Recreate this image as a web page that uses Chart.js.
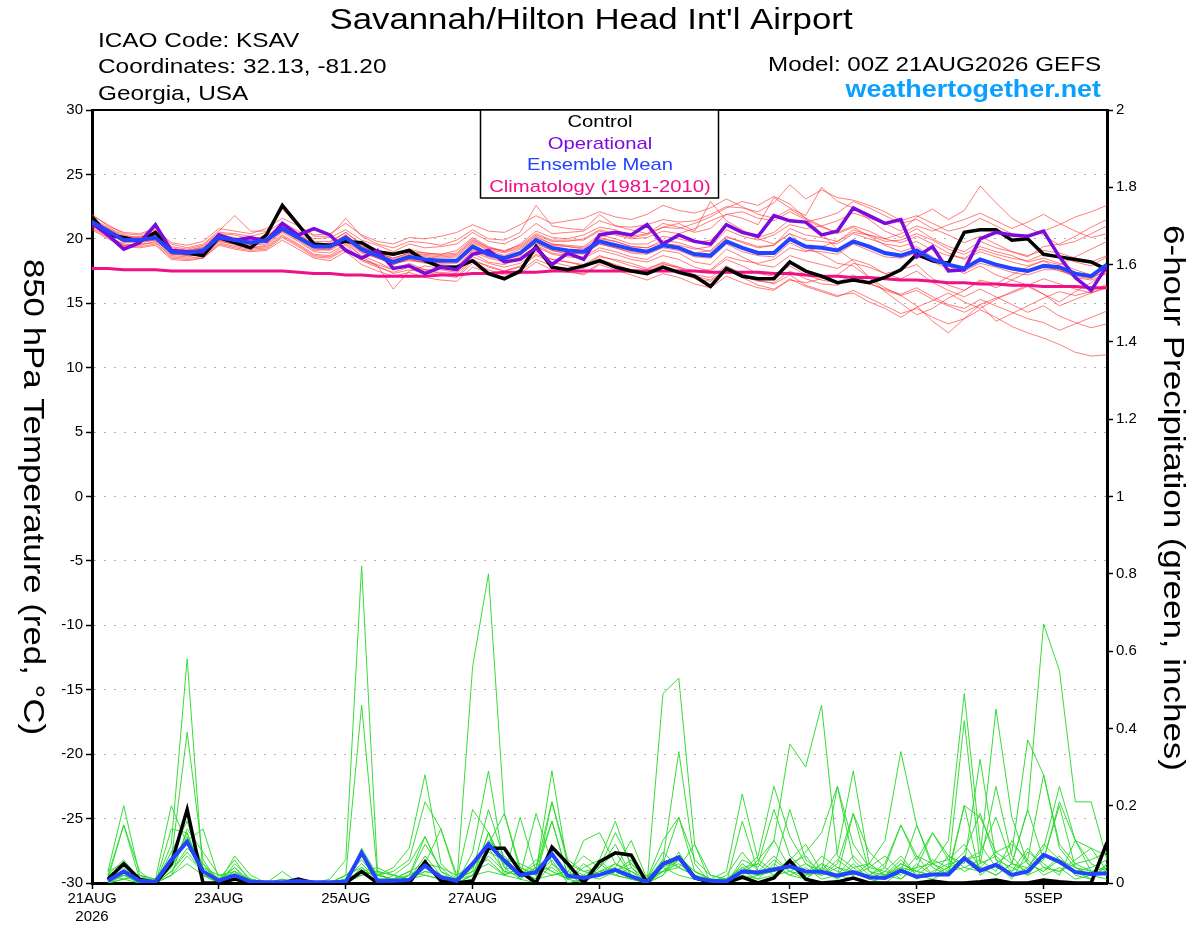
<!DOCTYPE html>
<html>
<head>
<meta charset="utf-8">
<title>KSAV GEFS meteogram</title>
<script src="https://cdn.jsdelivr.net/npm/chart.js@4.4.1/dist/chart.umd.min.js"></script>
<style>
  html, body { margin: 0; padding: 0; background: #fff; }
  #chart { display: block; }
</style>
</head>
<body>
<canvas id="chart" width="1200" height="927"></canvas>
<script>
// x axis is in 6-hour steps from 00Z 21AUG2026 (0) to 384 h (64)
const tickSteps = [0, 8, 16, 24, 32, 44, 52, 60];
const tickLabels = [['21AUG', '2026'], '23AUG', '25AUG', '27AUG', '29AUG', '1SEP', '3SEP', '5SEP'];

// 850 hPa temperature (deg C)
const controlTemp = [
  21.7, 20.3, 20.1, 19.8, 20.5, 19.1, 18.9, 18.7,
  20.1, 19.7, 19.3, 20.3, 22.6, 21.1, 19.6, 19.5,
  19.8, 19.7, 19.0, 18.8, 19.1, 18.3, 17.8, 17.8,
  18.3, 17.3, 16.9, 17.5, 19.4, 17.8, 17.6, 17.9,
  18.3, 17.8, 17.5, 17.3, 17.8, 17.4, 17.1, 16.3,
  17.7, 17.1, 16.9, 16.9, 18.2, 17.5, 17.1, 16.6,
  16.8, 16.6, 17.0, 17.6, 18.8, 18.3, 18.1, 20.5,
  20.7, 20.7, 19.9, 20.0, 18.8, 18.6, 18.4, 18.2,
  17.6
];
const operationalTemp = [
  21.2, 20.3, 19.2, 19.7, 21.1, 19.1, 19.0, 19.0,
  20.3, 19.9, 20.1, 19.8, 21.2, 20.3, 20.8, 20.3,
  19.1, 18.5, 19.1, 17.7, 17.9, 17.3, 17.8, 17.6,
  18.8, 19.1, 18.2, 18.4, 19.3, 18.0, 18.9, 18.4,
  20.3, 20.5, 20.3, 21.1, 19.6, 20.3, 19.8, 19.6,
  21.1, 20.5, 20.2, 21.8, 21.4, 21.3, 20.3, 20.6,
  22.4, 21.8, 21.2, 21.5, 18.6, 19.4, 17.5, 17.6,
  20.0, 20.5, 20.3, 20.2, 20.6, 18.6, 17.0, 16.0,
  17.9
];
const meanTemp = [
  21.3, 20.6, 19.9, 19.9, 20.1, 19.0, 18.9, 19.1,
  20.1, 19.9, 19.7, 19.9, 20.8, 20.1, 19.4, 19.4,
  20.1, 19.2, 18.7, 18.2, 18.6, 18.4, 18.3, 18.3,
  19.4, 18.8, 18.5, 18.9, 19.9, 19.3, 19.1, 19.0,
  19.8, 19.5, 19.2, 19.0, 19.5, 19.3, 18.8, 18.7,
  19.8, 19.3, 18.9, 18.9, 20.0, 19.4, 19.3, 19.1,
  19.8, 19.4, 18.9, 18.7, 19.1, 18.4, 18.0, 17.7,
  18.4, 18.0, 17.7, 17.5, 17.9, 17.8, 17.3, 17.1,
  18.0
];
const climoTemp = [
  17.7, 17.7, 17.6, 17.6, 17.6, 17.5, 17.5, 17.5,
  17.5, 17.5, 17.5, 17.5, 17.5, 17.4, 17.3, 17.3,
  17.2, 17.2, 17.1, 17.1, 17.1, 17.1, 17.2, 17.2,
  17.3, 17.3, 17.4, 17.4, 17.4, 17.5, 17.5, 17.5,
  17.5, 17.5, 17.5, 17.5, 17.5, 17.5, 17.5, 17.4,
  17.4, 17.4, 17.4, 17.3, 17.3, 17.2, 17.1, 17.1,
  17.0, 17.0, 16.9, 16.8, 16.8, 16.7, 16.6, 16.6,
  16.5, 16.5, 16.4, 16.4, 16.3, 16.3, 16.3, 16.2,
  16.2
];
const memberTemps = [
  [21.6, 20.9, 20.3, 20.1, 20.6, 19.4, 19.2, 19.5, 20.5, 20.4, 20.2, 20.5, 21.3, 20.6, 20.0, 20.1,
   20.7, 19.9, 19.5, 19.0, 19.6, 19.3, 19.4, 19.6, 20.5, 19.8, 19.6, 20.2, 21.2, 20.4, 20.5, 20.6,
   21.4, 21.0, 20.9, 21.1, 21.5, 21.3, 21.4, 21.9, 22.5, 22.4, 22.1, 22.8, 24.2, 23.1, 23.8, 23.2,
   23.0, 22.6, 22.1, 21.4, 21.8, 21.2, 20.6, 20.9, 21.6, 21.0, 20.4, 20.1, 20.6, 21.1, 21.7, 22.1, 22.6],
  [20.9, 20.2, 19.6, 19.5, 19.8, 18.6, 18.5, 18.6, 19.7, 19.4, 19.2, 19.3, 20.2, 19.5, 18.7, 18.6,
   19.3, 18.4, 17.9, 17.3, 17.6, 17.4, 17.2, 17.0, 18.1, 17.6, 17.2, 17.5, 18.4, 17.9, 17.5, 17.2,
   18.0, 17.6, 17.2, 16.8, 17.3, 17.0, 16.5, 16.2, 17.1, 16.6, 16.2, 16.0, 16.9, 16.3, 15.9, 15.5,
   16.0, 15.4, 14.8, 14.2, 14.6, 13.9, 13.4, 13.8, 14.5, 13.9, 13.2, 12.7, 12.3, 11.8, 11.2, 10.9, 11.0],
  [21.4, 20.8, 20.1, 20.0, 20.4, 19.1, 19.0, 19.3, 20.4, 20.0, 19.9, 20.2, 21.0, 20.2, 19.5, 19.7,
   20.5, 19.5, 18.9, 18.7, 19.2, 18.9, 18.8, 19.1, 20.1, 19.4, 19.0, 19.6, 20.6, 20.1, 20.0, 20.3,
   20.9, 20.7, 20.2, 20.4, 20.9, 21.2, 20.6, 22.9, 21.4, 20.7, 20.0, 19.6, 20.4, 19.3, 18.8, 18.1,
   17.9, 17.0, 16.2, 15.6, 14.8, 13.6, 12.7, 13.8, 14.9, 15.4, 15.8, 16.3, 15.7, 15.1, 15.9, 16.6, 17.4],
  [21.1, 20.4, 19.8, 19.7, 19.9, 18.9, 18.7, 18.9, 20.0, 19.8, 19.5, 19.6, 20.6, 20.0, 19.2, 19.1,
   19.8, 18.9, 18.5, 18.1, 18.3, 18.2, 18.0, 17.9, 19.1, 18.6, 18.3, 18.8, 19.6, 19.1, 18.8, 18.9,
   19.6, 19.3, 19.0, 18.9, 19.6, 19.5, 19.2, 19.4, 20.7, 20.2, 19.9, 20.3, 21.1, 20.8, 21.0, 21.4,
   22.0, 21.6, 21.2, 20.6, 21.7, 22.3, 21.5, 22.2, 24.1, 22.8, 21.6, 20.9, 20.3, 19.5, 19.8, 20.4, 21.0],
  [21.0, 20.3, 19.5, 19.6, 19.7, 18.7, 18.6, 18.8, 19.8, 19.6, 19.3, 19.5, 20.5, 19.8, 19.0, 18.9,
   19.6, 18.7, 18.2, 17.6, 17.9, 17.6, 17.6, 17.4, 18.6, 18.1, 17.8, 18.1, 19.0, 18.4, 18.2, 18.0,
   18.7, 18.3, 17.9, 17.6, 18.2, 17.8, 17.2, 17.0, 17.9, 17.3, 16.8, 16.5, 17.2, 16.4, 16.0, 15.6,
   15.8, 15.1, 14.6, 13.9, 14.7, 15.2, 15.8, 15.1, 14.6, 15.3, 15.9, 16.4, 15.7, 14.8, 15.3, 15.8, 16.3],
  [21.5, 20.7, 19.9, 20.2, 20.3, 19.2, 18.9, 19.0, 20.2, 19.9, 19.8, 20.0, 21.0, 20.3, 19.6, 19.3,
   19.8, 18.6, 17.9, 16.1, 17.5, 17.9, 17.7, 17.6, 18.9, 18.2, 18.0, 18.5, 19.5, 18.9, 18.7, 18.6,
   19.3, 19.0, 18.6, 18.4, 19.1, 18.9, 18.2, 18.0, 19.2, 18.6, 18.0, 17.8, 18.7, 18.3, 18.0, 17.7,
   18.4, 18.0, 17.3, 16.9, 17.5, 16.6, 16.0, 15.5, 16.1, 15.5, 14.9, 14.3, 14.8, 14.0, 13.5, 13.1, 13.4],
  [21.8, 21.1, 20.4, 20.3, 20.7, 19.6, 19.3, 19.6, 20.6, 21.8, 20.6, 20.6, 22.3, 21.0, 20.2, 20.2,
   21.6, 20.2, 19.6, 19.3, 19.8, 19.7, 19.5, 19.9, 20.7, 20.0, 19.9, 20.5, 22.6, 21.0, 20.8, 20.7,
   21.9, 21.0, 20.7, 20.4, 21.2, 20.9, 20.5, 20.8, 21.9, 21.6, 21.1, 23.2, 22.4, 21.8, 24.0, 22.9,
   22.4, 21.5, 20.6, 20.1, 20.8, 20.0, 19.4, 19.0, 19.8, 19.3, 19.0, 18.6, 19.4, 19.6, 20.2, 20.9, 21.5],
  [21.2, 20.5, 20.0, 19.8, 20.0, 18.8, 18.8, 19.0, 19.9, 19.7, 19.6, 19.7, 20.7, 20.0, 19.3, 19.2,
   20.0, 19.0, 18.6, 18.3, 18.4, 18.1, 18.2, 18.4, 19.6, 18.9, 18.4, 18.7, 19.8, 19.5, 19.4, 19.3,
   20.1, 19.8, 19.4, 19.3, 19.7, 19.4, 18.9, 19.1, 20.2, 19.7, 19.3, 19.5, 20.8, 20.3, 20.1, 19.8,
   20.7, 20.3, 19.8, 19.9, 20.4, 19.9, 19.2, 18.8, 19.4, 19.0, 18.7, 18.2, 18.5, 18.1, 17.6, 17.2, 17.8],
  [21.0, 20.5, 19.7, 19.8, 19.9, 18.8, 18.7, 18.9, 19.9, 19.5, 19.3, 19.4, 20.3, 19.6, 18.8, 18.7,
   19.5, 18.4, 18.0, 17.6, 18.1, 17.6, 17.3, 17.1, 18.3, 17.9, 17.5, 17.9, 18.8, 18.4, 18.2, 17.9,
   18.6, 18.4, 18.1, 17.7, 18.1, 17.7, 17.1, 16.8, 17.7, 17.0, 16.4, 16.1, 16.8, 16.6, 16.9, 17.2,
   18.1, 17.8, 17.3, 17.6, 18.0, 16.9, 16.4, 16.0, 16.8, 16.5, 17.2, 17.8, 18.3, 18.0, 18.6, 19.2, 19.8],
  [21.3, 20.6, 20.0, 19.9, 20.2, 19.0, 19.0, 19.2, 20.3, 20.1, 19.8, 20.0, 20.9, 20.2, 19.5, 19.6,
   20.3, 19.3, 18.8, 18.4, 18.8, 18.6, 18.5, 18.6, 19.7, 19.1, 18.7, 19.2, 20.1, 19.6, 19.5, 19.4,
   20.3, 20.0, 19.6, 19.6, 20.2, 20.0, 19.7, 19.9, 21.0, 20.5, 20.1, 20.5, 21.5, 21.3, 21.6, 22.0,
   22.9, 22.4, 21.8, 21.2, 21.5, 20.8, 20.3, 19.7, 20.2, 19.6, 19.0, 18.7, 19.1, 18.9, 18.5, 18.2, 18.7],
  [21.2, 20.5, 19.8, 19.8, 20.0, 19.0, 18.8, 19.0, 20.0, 19.9, 19.6, 19.8, 20.6, 19.9, 19.1, 19.2,
   19.9, 19.0, 18.5, 18.0, 18.4, 18.2, 17.9, 17.8, 19.0, 18.5, 18.2, 18.6, 19.4, 18.8, 18.6, 18.5,
   19.1, 18.8, 18.4, 18.2, 18.7, 18.4, 17.8, 17.5, 18.4, 17.9, 17.3, 17.1, 17.9, 17.2, 16.8, 16.6,
   17.2, 16.6, 16.0, 15.6, 16.0, 15.3, 14.8, 14.3, 14.9, 13.6, 14.2, 14.8, 15.4, 15.9, 15.6, 15.9, 16.5],
  [21.5, 20.8, 20.2, 20.1, 20.4, 19.3, 19.1, 19.4, 20.4, 20.3, 20.0, 20.2, 21.1, 20.4, 19.8, 19.8,
   20.5, 19.6, 19.1, 18.8, 19.0, 18.9, 18.8, 18.9, 20.0, 19.3, 19.1, 19.5, 20.4, 19.9, 19.9, 19.9,
   20.6, 20.3, 20.0, 20.1, 20.6, 20.4, 20.8, 21.4, 21.9, 22.1, 21.6, 21.4, 22.1, 21.5, 20.9, 20.5,
   21.0, 20.6, 20.0, 19.7, 20.2, 19.6, 18.9, 18.4, 19.0, 18.6, 18.2, 17.9, 18.3, 17.6, 17.0, 16.8, 17.3],
  [20.8, 20.1, 19.5, 19.4, 19.6, 18.5, 18.4, 18.5, 19.6, 19.3, 19.1, 19.2, 20.1, 19.4, 18.6, 18.5,
   19.2, 18.3, 17.8, 17.4, 17.8, 17.5, 17.4, 17.3, 18.4, 17.8, 17.5, 17.8, 18.7, 18.2, 17.9, 17.7,
   18.4, 18.0, 17.6, 17.3, 17.8, 17.5, 16.9, 16.7, 17.6, 17.1, 16.7, 16.6, 17.5, 16.9, 16.5, 16.4,
   17.0, 16.5, 16.1, 15.7, 16.2, 15.5, 14.9, 14.6, 15.3, 14.8, 14.3, 13.8, 13.5, 12.9, 13.4, 13.9, 14.4],
  [21.4, 20.7, 20.1, 20.0, 20.2, 19.1, 19.1, 19.3, 20.2, 20.0, 19.9, 20.1, 21.0, 20.3, 19.6, 19.5,
   20.2, 19.4, 18.9, 18.5, 18.9, 18.7, 18.6, 18.7, 19.8, 19.2, 18.9, 19.3, 20.2, 19.6, 19.4, 19.2,
   20.0, 19.8, 19.4, 19.3, 19.9, 19.7, 19.3, 19.0, 20.1, 19.8, 19.4, 19.5, 20.4, 19.9, 19.8, 19.6,
   20.4, 20.0, 19.6, 19.4, 19.8, 19.1, 18.7, 18.5, 19.2, 18.8, 18.5, 18.3, 18.8, 18.6, 18.2, 17.9, 18.6],
  [21.9, 21.0, 20.5, 20.4, 20.8, 19.7, 19.5, 19.8, 20.8, 20.6, 20.4, 20.8, 21.6, 21.0, 20.3, 20.4,
   21.2, 20.3, 19.8, 19.6, 20.1, 20.0, 20.2, 20.5, 21.1, 20.6, 20.5, 21.1, 21.8, 21.2, 21.4, 21.6,
   22.1, 21.7, 21.5, 21.9, 22.6, 22.2, 22.0, 22.4, 23.1, 22.5, 21.9, 21.6, 22.3, 21.6, 21.0, 20.4,
   20.9, 20.2, 19.5, 19.0, 19.4, 18.6, 17.9, 17.3, 17.9, 17.2, 16.8, 16.4, 16.9, 16.5, 16.1, 15.8, 16.2],
  [20.7, 20.0, 19.4, 19.3, 19.5, 18.4, 18.3, 18.5, 19.5, 19.2, 19.0, 19.1, 19.9, 19.2, 18.5, 18.3,
   19.0, 18.0, 17.5, 17.1, 17.4, 17.0, 16.8, 16.7, 17.8, 17.4, 17.0, 17.3, 18.2, 17.6, 17.4, 17.3,
   18.1, 17.9, 17.6, 17.5, 18.0, 17.8, 17.5, 17.6, 18.6, 18.3, 18.1, 18.4, 19.3, 19.0, 19.4, 19.8,
   20.5, 20.3, 20.0, 20.4, 21.0, 20.6, 21.1, 21.5, 22.0, 21.4, 20.8, 21.3, 21.9, 21.2, 20.6, 20.1, 20.4],
  [21.2, 20.6, 20.0, 20.0, 20.1, 19.1, 18.9, 19.1, 20.0, 19.9, 19.7, 19.8, 20.6, 20.0, 19.3, 19.4,
   20.1, 19.1, 18.6, 18.0, 18.5, 18.3, 18.1, 18.1, 19.2, 18.7, 18.4, 18.8, 19.7, 19.1, 18.9, 18.8,
   19.6, 19.3, 18.9, 18.8, 19.3, 19.1, 18.6, 18.5, 19.6, 19.0, 18.7, 18.6, 19.7, 19.1, 19.0, 18.8,
   19.6, 19.1, 18.6, 18.5, 18.9, 18.2, 17.7, 17.5, 18.1, 17.8, 17.4, 17.2, 17.6, 17.6, 17.1, 16.9, 17.6],
  [21.3, 20.7, 20.1, 19.8, 20.3, 19.0, 18.8, 19.1, 20.2, 20.0, 19.7, 19.9, 20.8, 20.1, 19.4, 19.5,
   20.3, 19.4, 18.9, 18.5, 18.9, 18.8, 18.7, 18.8, 19.9, 19.3, 19.0, 19.4, 20.3, 19.8, 19.8, 20.0,
   20.7, 20.4, 20.1, 20.3, 20.9, 20.8, 21.2, 21.7, 22.4, 22.9, 22.6, 23.3, 22.7, 21.6, 20.4, 19.2,
   18.3, 17.0, 15.9, 15.0, 14.1, 14.6, 15.4, 16.0, 16.7, 16.2, 16.8, 17.4, 17.9, 17.5, 17.2, 17.0, 17.5]
];

// 6-hour precipitation (inches); no value at hour 0
const controlPrecip = [
  null, 0.01, 0.05, 0.01, 0, 0.05, 0.19, 0,
  0, 0.01, 0, 0, 0, 0.01, 0, 0,
  0, 0.03, 0, 0, 0, 0.055, 0.005, 0,
  0.005, 0.09, 0.09, 0.03, 0, 0.093, 0.05, 0,
  0.055, 0.078, 0.072, 0, 0.049, 0.066, 0.015, 0,
  0, 0.015, 0, 0.013, 0.058, 0.01, 0, 0.003,
  0.013, 0, 0, 0, 0, 0.005, 0, 0,
  0.003, 0.008, 0, 0, 0.008, 0.003, 0, 0,
  0.105
];
const meanPrecip = [
  null, 0.006, 0.03, 0.006, 0.003, 0.06, 0.107, 0.03,
  0.006, 0.02, 0.003, 0.002, 0.002, 0.005, 0.002, 0.002,
  0.003, 0.078, 0.006, 0.006, 0.008, 0.045, 0.015, 0.006,
  0.05, 0.1, 0.058, 0.02, 0.028, 0.075, 0.019, 0.013,
  0.021, 0.034, 0.017, 0.003, 0.049, 0.066, 0.013, 0.006,
  0.004, 0.03, 0.027, 0.035, 0.043, 0.03, 0.029, 0.019,
  0.028, 0.015, 0.013, 0.032, 0.016, 0.022, 0.022, 0.064,
  0.032, 0.047, 0.021, 0.03, 0.073, 0.055, 0.028, 0.023,
  0.025
];
const memberPrecips = [
  [null, 0.01, 0.03, 0.01, 0, 0.04, 0.13, 0.02, 0, 0.01, 0, 0, 0, 0, 0, 0.01,
   0.06, 0.82, 0.03, 0.02, 0.01, 0.07, 0.02, 0, 0.02, 0.13, 0.04, 0.01, 0, 0.05, 0.01, 0,
   0.03, 0.02, 0.01, 0, 0.02, 0.06, 0.01, 0, 0, 0.03, 0.01, 0.05, 0.02, 0.01, 0.04, 0.02,
   0.01, 0, 0.02, 0.06, 0.02, 0.01, 0.03, 0.07, 0.04, 0.02, 0.05, 0.19, 0.67, 0.55, 0.21, 0.21, 0.06],
  [null, 0, 0.02, 0, 0, 0.02, 0.07, 0.03, 0, 0.02, 0.01, 0, 0, 0, 0, 0,
   0, 0.04, 0.01, 0, 0.02, 0.04, 0.01, 0, 0.56, 0.80, 0.18, 0.04, 0.02, 0.06, 0, 0.01,
   0.02, 0.05, 0.03, 0, 0.03, 0.04, 0.02, 0, 0, 0.01, 0.02, 0.03, 0.06, 0.1, 0.03, 0.01,
   0.05, 0.01, 0, 0.03, 0.15, 0.05, 0.02, 0.2, 0.02, 0.05, 0.01, 0.08, 0.05, 0.02, 0.11, 0.03, 0.02],
  [null, 0.02, 0.06, 0.01, 0, 0.1, 0.58, 0.02, 0.01, 0.04, 0, 0, 0, 0, 0, 0,
   0.01, 0.02, 0.03, 0, 0.02, 0.12, 0.03, 0.01, 0.03, 0.19, 0.06, 0.01, 0.04, 0.16, 0.02, 0,
   0.04, 0.08, 0.02, 0, 0.05, 0.17, 0.03, 0.01, 0, 0.06, 0.04, 0.11, 0.36, 0.3, 0.46, 0.07,
   0.04, 0.01, 0.02, 0.05, 0.03, 0.02, 0.04, 0.08, 0.18, 0.06, 0.02, 0.04, 0.1, 0.06, 0.03, 0.01, 0.05],
  [null, 0, 0.01, 0.02, 0, 0.03, 0.09, 0.05, 0, 0.02, 0.01, 0, 0, 0, 0, 0,
   0, 0.03, 0.02, 0.01, 0, 0.05, 0.04, 0, 0.05, 0.06, 0.02, 0.17, 0.03, 0.04, 0.01, 0.02,
   0.01, 0.03, 0.06, 0, 0.49, 0.53, 0.1, 0, 0, 0.02, 0.01, 0.02, 0.03, 0.01, 0.05, 0.03,
   0.02, 0.05, 0.02, 0.01, 0.04, 0.13, 0.06, 0.03, 0.05, 0.25, 0.07, 0.02, 0.04, 0.03, 0.06, 0.09, 0.03],
  [null, 0.01, 0.02, 0, 0, 0.04, 0.11, 0.14, 0.01, 0.03, 0, 0, 0.01, 0, 0, 0,
   0.02, 0.46, 0.02, 0.01, 0.03, 0.02, 0.01, 0.01, 0.02, 0.07, 0.03, 0.02, 0.06, 0.03, 0.01, 0.05,
   0.02, 0.03, 0.01, 0, 0.03, 0.05, 0.02, 0, 0.01, 0.04, 0.02, 0.03, 0.05, 0.07, 0.02, 0.06,
   0.03, 0.01, 0.03, 0.02, 0.07, 0.05, 0.11, 0.49, 0.1, 0.04, 0.03, 0.06, 0.02, 0.04, 0.01, 0.02, 0.04],
  [null, 0.02, 0.04, 0.01, 0, 0.06, 0.39, 0.06, 0, 0.05, 0.01, 0, 0, 0, 0, 0,
   0, 0.03, 0, 0.02, 0.01, 0.03, 0.02, 0, 0.04, 0.1, 0.18, 0.03, 0.01, 0.02, 0.03, 0.01,
   0.06, 0.16, 0.04, 0, 0.02, 0.08, 0.01, 0, 0, 0.16, 0.03, 0.04, 0.02, 0.04, 0.01, 0.02,
   0.18, 0.03, 0.02, 0.04, 0.01, 0.03, 0.05, 0.06, 0.07, 0.45, 0.17, 0.05, 0.03, 0.06, 0.04, 0.02, 0.01],
  [null, 0, 0.01, 0, 0, 0.08, 0.16, 0.04, 0.02, 0.03, 0, 0, 0, 0, 0, 0,
   0.01, 0.05, 0.01, 0, 0.02, 0.04, 0.01, 0, 0.01, 0.13, 0.05, 0.02, 0.18, 0.05, 0.02, 0.01,
   0.03, 0.04, 0.11, 0.01, 0.06, 0.34, 0.05, 0, 0, 0.03, 0.05, 0.02, 0.06, 0.02, 0.03, 0.25,
   0.06, 0.02, 0.04, 0.01, 0.05, 0.02, 0.03, 0.04, 0.03, 0.05, 0.08, 0.37, 0.28, 0.09, 0.04, 0.03, 0.02],
  [null, 0.01, 0.03, 0.02, 0, 0.02, 0.05, 0.02, 0, 0.01, 0.01, 0, 0, 0, 0, 0,
   0, 0.03, 0.02, 0.04, 0.09, 0.28, 0.05, 0.01, 0.03, 0.05, 0.02, 0.04, 0.02, 0.08, 0.01, 0.11,
   0.13, 0.05, 0.02, 0, 0.04, 0.06, 0.02, 0, 0.01, 0.02, 0.06, 0.11, 0.04, 0.02, 0.05, 0.01,
   0.04, 0.05, 0.11, 0.34, 0.15, 0.04, 0.02, 0.06, 0.04, 0.02, 0.05, 0.03, 0.06, 0.21, 0.11, 0.05, 0.03],
  [null, 0.03, 0.05, 0.01, 0, 0.03, 0.08, 0.03, 0.01, 0.02, 0, 0, 0.01, 0, 0, 0,
   0.02, 0.06, 0.01, 0.01, 0.03, 0.05, 0.14, 0.02, 0.05, 0.08, 0.06, 0.05, 0.03, 0.29, 0.04, 0.02,
   0.05, 0.02, 0.04, 0.01, 0.03, 0.06, 0.03, 0.01, 0, 0.05, 0.02, 0.04, 0.19, 0.06, 0.03, 0.02,
   0.07, 0.03, 0.01, 0.05, 0.03, 0.06, 0.04, 0.42, 0.05, 0.07, 0.03, 0.09, 0.04, 0.03, 0.05, 0.06, 0.08],
  [null, 0.02, 0.01, 0.02, 0.01, 0.05, 0.12, 0.04, 0.01, 0.04, 0, 0, 0, 0, 0, 0,
   0.01, 0.07, 0.02, 0.01, 0.01, 0.03, 0.02, 0, 0.08, 0.29, 0.04, 0.03, 0.01, 0.21, 0.06, 0.03,
   0.02, 0.03, 0.05, 0.01, 0.04, 0.02, 0.01, 0, 0.02, 0.08, 0.03, 0.07, 0.03, 0.05, 0.02, 0.04,
   0.03, 0.02, 0.05, 0.15, 0.06, 0.13, 0.07, 0.05, 0.32, 0.06, 0.04, 0.02, 0.07, 0.05, 0.03, 0.04, 0.06],
  [null, 0.03, 0.2, 0.02, 0.01, 0.2, 0.1, 0.03, 0, 0.07, 0.02, 0, 0, 0.01, 0, 0,
   0, 0.02, 0.03, 0.02, 0.01, 0.02, 0.01, 0, 0.02, 0.03, 0.02, 0.01, 0.04, 0.02, 0.03, 0.07,
   0.04, 0.1, 0.02, 0, 0.06, 0.04, 0.1, 0.02, 0.01, 0.03, 0.07, 0.25, 0.12, 0.05, 0.03, 0.08,
   0.29, 0.05, 0.02, 0.04, 0.03, 0.02, 0.07, 0.04, 0.06, 0.03, 0.11, 0.05, 0.03, 0.07, 0.02, 0.01, 0.05],
  [null, 0.01, 0.15, 0.03, 0, 0.14, 0.13, 0.02, 0, 0.03, 0.01, 0, 0, 0, 0, 0,
   0, 0.09, 0.02, 0.03, 0.06, 0.21, 0.14, 0.01, 0.19, 0.13, 0.02, 0.04, 0.02, 0.16, 0.02, 0.01,
   0.03, 0.05, 0.03, 0.01, 0.08, 0.04, 0.02, 0.01, 0.01, 0.03, 0.02, 0.06, 0.03, 0.02, 0.07, 0.04,
   0.02, 0.04, 0.07, 0.03, 0.04, 0.05, 0.03, 0.2, 0.17, 0.08, 0.05, 0.04, 0.09, 0.25, 0.11, 0.09, 0.07],
  [null, 0, 0.02, 0.01, 0, 0.02, 0.14, 0.08, 0.02, 0.02, 0.01, 0, 0, 0, 0, 0,
   0.02, 0.04, 0.01, 0.01, 0.02, 0.1, 0.04, 0.02, 0.04, 0.11, 0.07, 0.02, 0.05, 0.03, 0.01, 0.04,
   0.06, 0.02, 0.01, 0.02, 0.03, 0.07, 0.03, 0.01, 0.03, 0.23, 0.06, 0.03, 0.04, 0.08, 0.13, 0.25,
   0.1, 0.04, 0.03, 0.07, 0.02, 0.05, 0.06, 0.1, 0.04, 0.08, 0.1, 0.06, 0.28, 0.1, 0.05, 0.03, 0.04],
  [null, 0.02, 0.15, 0.01, 0.01, 0.05, 0.11, 0.05, 0.01, 0.06, 0, 0, 0.03, 0, 0, 0,
   0.01, 0.03, 0.04, 0.02, 0.05, 0.12, 0.03, 0, 0.02, 0.09, 0.03, 0.02, 0.04, 0.21, 0.05, 0.03,
   0.04, 0.13, 0.05, 0.01, 0.11, 0.17, 0.06, 0.02, 0.01, 0.04, 0.05, 0.19, 0.07, 0.03, 0.02, 0.05,
   0.18, 0.08, 0.04, 0.15, 0.07, 0.02, 0.04, 0.06, 0.08, 0.17, 0.05, 0.19, 0.06, 0.2, 0.04, 0.02, 0.03]
];

const stationName = "Savannah/Hilton Head Int'l Airport";
const infoLines = ['ICAO Code: KSAV', 'Coordinates: 32.13, -81.20', 'Georgia, USA'];
const modelRun = 'Model: 00Z 21AUG2026 GEFS';

const FONT = "'Liberation Sans', Arial, Helvetica, sans-serif";
Chart.defaults.font.family = FONT;
Chart.defaults.color = '#000';

const toPoints = arr => arr.map((v, i) => ({ x: i, y: v }));

function line(data, color, width, axis, order) {
  return {
    data: toPoints(data),
    borderColor: color,
    borderWidth: width,
    yAxisID: axis,
    pointRadius: 0,
    tension: 0,
    fill: false,
    order: order
  };
}

const datasets = [];
memberTemps.forEach(m => datasets.push(line(m, 'rgba(255, 40, 40, 0.6)', 1, 'y', 10)));
memberPrecips.forEach(m => datasets.push(line(m, 'rgba(45, 218, 45, 0.95)', 1, 'y2', 9)));
datasets.push(line(climoTemp, '#ee1188', 3, 'y', 6));
datasets.push(line(controlTemp, '#000000', 3.5, 'y', 5));
datasets.push(line(operationalTemp, '#7d0adc', 3.5, 'y', 4));
datasets.push(line(meanTemp, '#2244ff', 4, 'y', 3));
datasets.push(line(controlPrecip, '#000000', 3.5, 'y2', 2));
datasets.push(line(meanPrecip, '#2244ff', 4, 'y2', 1));

// the original plot uses a wider sans face, so stretch text horizontally
function wideText(ctx, text, x, y, stretch) {
  ctx.save();
  ctx.translate(x, y);
  ctx.scale(stretch, 1);
  ctx.fillText(text, 0, 0);
  ctx.restore();
}

// titles, legend box and frame
const decorations = {
  id: 'decorations',
  afterDraw(chart) {
    const ctx = chart.ctx;
    const area = chart.chartArea;
    ctx.save();

    ctx.strokeStyle = '#000';
    ctx.lineWidth = 2;
    ctx.beginPath();
    ctx.moveTo(area.left, area.top);
    ctx.lineTo(area.right, area.top);
    ctx.stroke();

    ctx.fillStyle = '#000';
    ctx.textBaseline = 'alphabetic';
    ctx.textAlign = 'center';
    ctx.font = '30px ' + FONT;
    wideText(ctx, stationName, 591, 29, 1.16);

    ctx.textAlign = 'left';
    ctx.font = '21px ' + FONT;
    wideText(ctx, infoLines[0], 98, 47, 1.16);
    wideText(ctx, infoLines[1], 98, 73, 1.16);
    wideText(ctx, infoLines[2], 98, 100, 1.16);

    ctx.textAlign = 'right';
    wideText(ctx, modelRun, 1101, 71, 1.15);
    ctx.font = 'bold 24px ' + FONT;
    ctx.fillStyle = '#0aa0ff';
    wideText(ctx, 'weathertogether.net', 1101, 97, 1.12);

    // legend
    ctx.fillStyle = '#fff';
    ctx.fillRect(480, area.top, 239, 88);
    ctx.strokeStyle = '#000';
    ctx.lineWidth = 1.5;
    ctx.strokeRect(480.5, area.top, 238, 88);
    ctx.textAlign = 'center';
    ctx.font = '17px ' + FONT;
    const rows = [
      ['Control', '#000000'],
      ['Operational', '#7d0adc'],
      ['Ensemble Mean', '#2244ff'],
      ['Climatology (1981-2010)', '#ee1188']
    ];
    rows.forEach((r, k) => {
      ctx.fillStyle = r[1];
      wideText(ctx, r[0], 600, 127 + k * 21.5, 1.19);
    });

    // axis titles, both read top to bottom
    ctx.fillStyle = '#000';
    ctx.font = '30px ' + FONT;
    ctx.textBaseline = 'middle';
    ctx.save();
    ctx.translate(32, 497);
    ctx.rotate(Math.PI / 2);
    wideText(ctx, '850 hPa Temperature (red, \u00B0C)', 0, 0, 1.16);
    ctx.restore();
    ctx.save();
    ctx.translate(1172, 498);
    ctx.rotate(Math.PI / 2);
    wideText(ctx, '6-hour Precipitation (green, inches)', 0, 0, 1.165);
    ctx.restore();

    ctx.restore();
  }
};

new Chart(document.getElementById('chart'), {
  type: 'line',
  data: { datasets: datasets },
  plugins: [decorations],
  options: {
    responsive: false,
    devicePixelRatio: 1,
    animation: false,
    events: [],
    layout: { padding: { top: 110, left: 0, right: 0, bottom: 0 } },
    plugins: {
      legend: { display: false },
      tooltip: { enabled: false }
    },
    scales: {
      x: {
        type: 'linear',
        min: 0,
        max: 64,
        afterBuildTicks: scale => { scale.ticks = tickSteps.map(v => ({ value: v })); },
        afterFit: scale => { scale.height = 44; },
        ticks: {
          autoSkip: false,
          maxRotation: 0,
          minRotation: 0,
          padding: 1,
          font: { size: 15 },
          callback: value => tickLabels[tickSteps.indexOf(value)]
        },
        grid: { drawOnChartArea: false, tickLength: 6, tickColor: '#000', tickWidth: 1.5 },
        border: { color: '#000', width: 3 }
      },
      y: {
        position: 'left',
        min: -30,
        max: 30,
        afterFit: scale => { scale.width = 92; },
        ticks: { stepSize: 5, padding: 3, font: { size: 15 } },
        grid: { color: '#b0b0b0', lineWidth: 1, tickLength: 6, tickColor: '#000', tickWidth: 1.5 },
        border: { color: '#000', width: 3, dash: [2, 8] }
      },
      y2: {
        position: 'right',
        min: 0,
        max: 2,
        afterFit: scale => { scale.width = 93; },
        ticks: {
          stepSize: 0.2,
          padding: 3,
          font: { size: 15 },
          callback: v => String(Number(v.toFixed(1)))
        },
        grid: { drawOnChartArea: false, tickLength: 6, tickColor: '#000', tickWidth: 1.5 },
        border: { color: '#000', width: 3 }
      }
    }
  }
});
</script>
</body>
</html>
